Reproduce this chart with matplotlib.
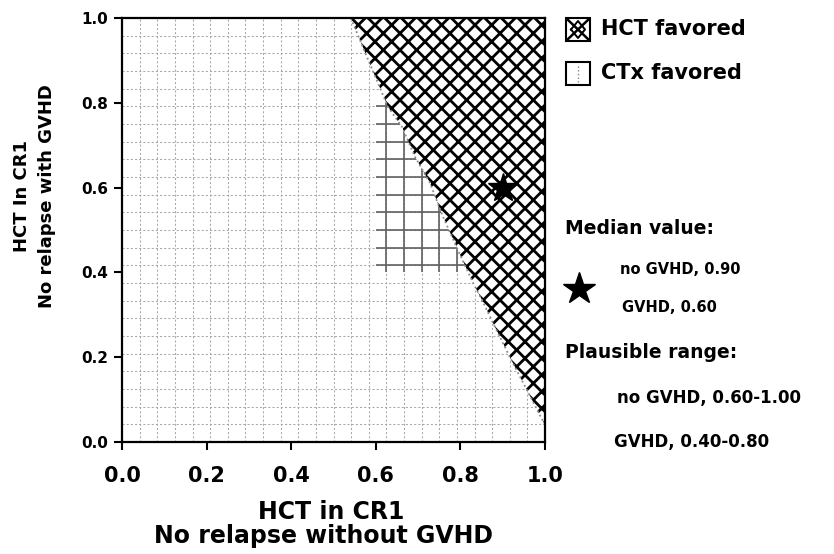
import numpy as np
import matplotlib
matplotlib.use("Agg")
import matplotlib.pyplot as plt
from matplotlib.patches import Rectangle
from matplotlib.lines import Line2D

# frontiere de la zone ou la HCT est favorisee
frontiere_x = [0.541, 0.582, 0.629, 0.662, 0.693, 0.728, 0.759, 0.794,
               0.830, 0.851, 0.877, 0.917, 0.957, 1.0]
frontiere_y = [1.0, 0.901, 0.790, 0.743, 0.672, 0.611, 0.531, 0.453,
               0.375, 0.335, 0.281, 0.200, 0.123, 0.04]

# valeur mediane et intervalle plausible
mediane = (0.90, 0.60)
plage_x = (0.60, 1.00)
plage_y = (0.40, 0.80)

ticks = [0.0, 0.2, 0.4, 0.6, 0.8, 1.0]
tick_labels = ["0.0", "0.2", "0.4", "0.6", "0.8", "1.0"]

plt.rcParams["font.family"] = "DejaVu Sans"
plt.rcParams["font.weight"] = "bold"
plt.rcParams["hatch.linewidth"] = 2.0

W, H = 834, 554
fig = plt.figure(figsize=(W / 100, H / 100), dpi=100)


def fx(px):
    return px / W


def fy(py):
    return 1 - py / H


ax = fig.add_axes([fx(122), fy(442), (545 - 122) / W, (442 - 18) / H])
ax.set_xlim(0, 1)
ax.set_ylim(0, 1)

# grille fine (zone CTx)
pas = np.arange(1, 24) / 24
ax.set_xticks(pas, minor=True)
ax.set_yticks(pas, minor=True)
ax.grid(which="minor", color="#a8a8a8", linestyle=(0, (2, 2)), linewidth=0.75)
ax.set_axisbelow(True)

# grille plus foncee dans l'intervalle plausible
vx = pas[(pas > plage_x[0]) & (pas < plage_x[1])]
hy = pas[(pas > plage_y[0]) & (pas < plage_y[1])]
ax.vlines(vx, plage_y[0], plage_y[1], color="#606060", linewidth=1.2, zorder=2)
ax.hlines(hy, plage_x[0], plage_x[1], color="#606060", linewidth=1.2, zorder=2)

# zone HCT favorisee
poly_x = frontiere_x + [1.0]
poly_y = frontiere_y + [1.0]
ax.fill(poly_x, poly_y, facecolor="white", edgecolor="black", hatch="xx",
        linewidth=0, zorder=3)
ax.plot(frontiere_x, frontiere_y, color="#8a8a8a", linestyle=":",
        linewidth=1.3, zorder=4)

ax.plot(mediane[0], mediane[1], marker="*", markersize=22, color="black",
        linestyle="none", zorder=5)

# axes
for s in ax.spines.values():
    s.set_linewidth(1.6)
    s.set_zorder(6)
ax.set_xticks(ticks)
ax.set_yticks(ticks)
ax.set_xticklabels(tick_labels, fontsize=15, fontweight="bold")
ax.set_yticklabels(tick_labels, fontsize=11, fontweight="bold")
ax.tick_params(which="major", direction="out", length=6, width=1.5)
ax.tick_params(axis="x", pad=11)
ax.tick_params(axis="y", pad=4)
ax.tick_params(which="minor", length=0)

# titres des axes
fig.text(fx(331), fy(512), "HCT in CR1", fontsize=17, fontweight="bold",
         ha="center", va="center")
fig.text(fx(324), fy(536), "No relapse without GVHD", fontsize=17,
         fontweight="bold", ha="center", va="center")
fig.text(fx(22), fy(196), "HCT In CR1", fontsize=13, fontweight="bold",
         ha="center", va="center", rotation=90)
fig.text(fx(47), fy(196), "No relapse with GVHD", fontsize=13,
         fontweight="bold", ha="center", va="center", rotation=90)

# legende
boite1 = Rectangle((fx(566), fy(41)), 24 / W, 23 / H, transform=fig.transFigure,
                   facecolor="white", edgecolor="black", linewidth=1.5)
boite2 = Rectangle((fx(566), fy(85)), 24 / W, 23 / H, transform=fig.transFigure,
                   facecolor="white", edgecolor="black", linewidth=1.5)
fig.add_artist(boite1)
fig.add_artist(boite2)
# croix dans la premiere case
for x0, x1 in [(567, 589), (589, 567)]:
    fig.add_artist(Line2D([fx(x0), fx(x1)], [fy(19), fy(40)], transform=fig.transFigure,
                          color="black", linewidth=1.8))
fig.add_artist(Line2D([fx(571), fx(578), fx(585), fx(578), fx(571)],
                      [fy(29.5), fy(21), fy(29.5), fy(38), fy(29.5)],
                      transform=fig.transFigure, color="black", linewidth=1.4))
fig.add_artist(Line2D([fx(578), fx(578)], [fy(66), fy(82)], transform=fig.transFigure,
                      color="#888888", linestyle=":", linewidth=1.0))
fig.text(fx(601), fy(29), "HCT favored", fontsize=15, fontweight="bold", va="center")
fig.text(fx(601), fy(73), "CTx favored", fontsize=15, fontweight="bold", va="center")

fig.text(fx(565), fy(228), "Median value:", fontsize=13.5, fontweight="bold", va="center")
fig.text(fx(620), fy(270), "no GVHD, 0.90", fontsize=10.5, fontweight="bold", va="center")
fig.text(fx(622), fy(308), "GVHD, 0.60", fontsize=10.5, fontweight="bold", va="center")
fig.add_artist(Line2D([fx(579)], [fy(289)], transform=fig.transFigure, marker="*",
                      markersize=24, color="black", linestyle="none"))
fig.text(fx(565), fy(352), "Plausible range:", fontsize=13.5, fontweight="bold", va="center")
fig.text(fx(617), fy(398), "no GVHD, 0.60-1.00", fontsize=12, fontweight="bold", va="center")
fig.text(fx(614), fy(442), "GVHD, 0.40-0.80", fontsize=12, fontweight="bold", va="center")

fig.savefig("out.png", dpi=100)
